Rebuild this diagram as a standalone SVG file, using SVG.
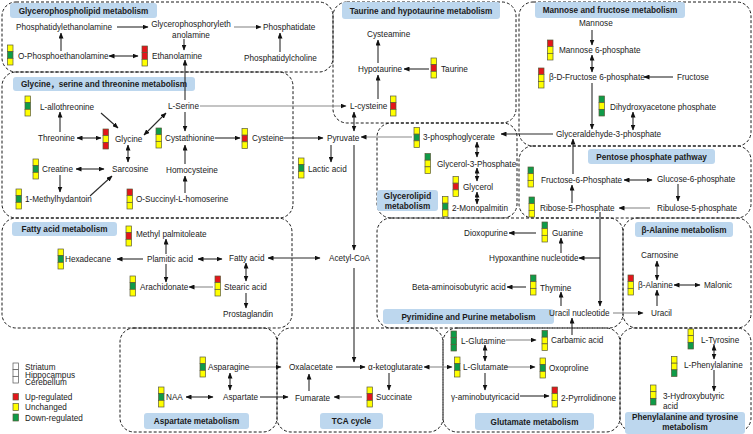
<svg xmlns="http://www.w3.org/2000/svg" width="753" height="434" viewBox="0 0 753 434">
<style>
text{font-family:"Liberation Sans",Arial,"Noto Sans CJK SC",sans-serif;font-size:8.2px;fill:#1a1a1a}
.h{font-weight:bold;text-anchor:middle}
.m{text-anchor:middle}
.box{fill:none;stroke:#1a1a1a;stroke-width:1;stroke-dasharray:3 2}
.tb{fill:#bdd7ee}
.c line{stroke:#2a2a2a;stroke-width:1.1;marker-end:url(#a)}
.c line.d{marker-start:url(#a)}
.c line.g{stroke:#8a8a8a}
.cy{fill:#ffff00;stroke:#5a5a3a;stroke-width:0.7}
.cr{fill:#e3161b;stroke:#5a5a3a;stroke-width:0.7}
.cg{fill:#0f9b48;stroke:#5a5a3a;stroke-width:0.7}
.cw{fill:#fff;stroke:#555;stroke-width:0.7}
</style>
<defs>
<marker id="a" viewBox="0 0 6 5" refX="5.5" refY="2.5" markerWidth="6" markerHeight="5" markerUnits="userSpaceOnUse" orient="auto-start-reverse"><path d="M0,0 L6,2.5 L0,5 z" fill="#111"/></marker>
<g id="ygy"><rect class="cy" width="5.5" height="6.67"/><rect class="cg" y="6.67" width="5.5" height="6.67"/><rect class="cy" y="13.33" width="5.5" height="6.67"/></g>
<g id="rry"><rect class="cr" width="5.5" height="6.67"/><rect class="cr" y="6.67" width="5.5" height="6.67"/><rect class="cy" y="13.33" width="5.5" height="6.67"/></g>
<g id="ryr"><rect class="cr" width="5.5" height="6.67"/><rect class="cy" y="6.67" width="5.5" height="6.67"/><rect class="cr" y="13.33" width="5.5" height="6.67"/></g>
<g id="gyy"><rect class="cg" width="5.5" height="6.67"/><rect class="cy" y="6.67" width="5.5" height="6.67"/><rect class="cy" y="13.33" width="5.5" height="6.67"/></g>
<g id="yry"><rect class="cy" width="5.5" height="6.67"/><rect class="cr" y="6.67" width="5.5" height="6.67"/><rect class="cy" y="13.33" width="5.5" height="6.67"/></g>
<g id="ryy"><rect class="cr" width="5.5" height="6.67"/><rect class="cy" y="6.67" width="5.5" height="6.67"/><rect class="cy" y="13.33" width="5.5" height="6.67"/></g>
<g id="gyg"><rect class="cg" width="5.5" height="6.67"/><rect class="cy" y="6.67" width="5.5" height="6.67"/><rect class="cg" y="13.33" width="5.5" height="6.67"/></g>
<g id="ggg"><rect class="cg" width="5.5" height="6.67"/><rect class="cg" y="6.67" width="5.5" height="6.67"/><rect class="cg" y="13.33" width="5.5" height="6.67"/></g>
<g id="yyg"><rect class="cy" width="5.5" height="6.67"/><rect class="cy" y="6.67" width="5.5" height="6.67"/><rect class="cg" y="13.33" width="5.5" height="6.67"/></g>
</defs>
<rect width="753" height="434" fill="#fff"/>

<g id="frames">
<rect class="box" x="2" y="2" width="331" height="70" rx="14"/>
<rect class="box" x="2" y="72" width="291" height="146" rx="14"/>
<rect class="box" x="2" y="218" width="290" height="110" rx="14"/>
<rect class="box" x="333" y="2" width="183" height="121" rx="14"/>
<rect class="box" x="519" y="2" width="232" height="144" rx="14"/>
<rect class="box" x="377" y="123" width="140" height="95" rx="14"/>
<rect class="box" x="519" y="146" width="232" height="72" rx="14"/>
<rect class="box" x="377" y="218" width="246" height="110" rx="14"/>
<rect class="box" x="623" y="218" width="128" height="110" rx="14"/>
<rect class="box" x="120" y="328" width="157" height="104" rx="14"/>
<rect class="box" x="277" y="328" width="166" height="104" rx="14"/>
<rect class="box" x="443" y="328" width="177" height="104" rx="14"/>
<rect class="box" x="620" y="328" width="131" height="104" rx="14"/>
</g>

<g id="titles">
<rect class="tb" x="10" y="3" width="147" height="15" rx="3"/><text class="h" x="83.5" y="13.5">Glycerophospholipid metabolism</text>
<rect class="tb" x="342" y="2" width="158" height="17" rx="3"/><text class="h" x="421" y="13.5">Taurine and hypotaurine metabolism</text>
<rect class="tb" x="535" y="2" width="150" height="16" rx="3"/><text class="h" x="610" y="13">Mannose and fructose metabolism</text>
<rect class="tb" x="13" y="77" width="182" height="14" rx="3"/><text class="h" x="104" y="87">Glycine，serine and threonine metabolism</text>
<rect class="tb" x="588" y="149" width="127" height="15" rx="3"/><text class="h" x="651.5" y="159.5">Pentose phosphate pathway</text>
<rect class="tb" x="377" y="190" width="61" height="21" rx="3"/><text class="h" x="407.5" y="199">Glycerolipid</text><text class="h" x="407.5" y="209">metabolism</text>
<rect class="tb" x="12" y="222" width="105" height="14" rx="3"/><text class="h" x="64.5" y="232">Fatty acid metabolism</text>
<rect class="tb" x="635" y="222" width="98" height="15" rx="3"/><text class="h" x="684" y="232.5">β-Alanine metabolism</text>
<rect class="tb" x="383" y="309" width="171" height="15" rx="3"/><text class="h" x="468.5" y="319.5">Pyrimidine and Purine metabolism</text>
<rect class="tb" x="144" y="413" width="105" height="16" rx="3"/><text class="h" x="196.5" y="424">Aspartate metabolism</text>
<rect class="tb" x="320" y="413" width="63" height="16" rx="3"/><text class="h" x="351.5" y="424">TCA cycle</text>
<rect class="tb" x="475" y="413" width="119" height="17" rx="3"/><text class="h" x="534.5" y="424.5">Glutamate metabolism</text>
<rect class="tb" x="625" y="412" width="120" height="22" rx="3"/><text class="h" x="685" y="420">Phenylalanine and tyrosine</text><text class="h" x="685" y="430">metabolism</text>
</g>

<g id="connectors" class="c">
<line x1="117" y1="27" x2="148" y2="27"/>
<line class="g" x1="234" y1="27" x2="261" y2="27"/>
<line x1="280" y1="52" x2="280" y2="33"/>
<line x1="61" y1="51" x2="61" y2="33"/>
<line class="d" x1="109" y1="56" x2="138" y2="56"/>
<line x1="184" y1="39" x2="184" y2="50"/>
<line x1="185" y1="100" x2="185" y2="60"/>
<line x1="185" y1="112" x2="185" y2="131"/>
<line x1="60" y1="132" x2="60" y2="112"/>
<line x1="101" y1="113" x2="118" y2="128"/>
<line class="d" x1="77" y1="138" x2="101" y2="138"/>
<line class="d" x1="144" y1="135" x2="166" y2="113"/>
<line x1="215" y1="138" x2="240" y2="138"/>
<line x1="284" y1="138" x2="323" y2="138"/>
<line class="g" x1="200" y1="106" x2="346" y2="106"/>
<line class="d" x1="354" y1="112" x2="354" y2="131"/>
<line class="g" x1="412" y1="137" x2="361" y2="137"/>
<line x1="553" y1="134" x2="501" y2="134"/>
<line class="d" x1="477" y1="142" x2="477" y2="157"/>
<line class="d" x1="477" y1="168" x2="477" y2="181"/>
<line class="d" x1="477" y1="192" x2="477" y2="204"/>
<line x1="331" y1="145" x2="331" y2="162"/>
<line x1="354" y1="145" x2="354" y2="250"/>
<line x1="354" y1="268" x2="354" y2="362"/>
<line class="d" x1="268" y1="258" x2="320" y2="258"/>
<line class="d" x1="128" y1="145" x2="128" y2="162"/>
<line class="d" x1="76" y1="169" x2="104" y2="169"/>
<line x1="60" y1="175" x2="60" y2="192"/>
<line x1="90" y1="196" x2="112" y2="176"/>
<line x1="185" y1="164" x2="185" y2="145"/>
<line x1="185" y1="193" x2="185" y2="176"/>
<line x1="378" y1="63" x2="378" y2="40"/>
<line x1="429" y1="69" x2="404" y2="69"/>
<line x1="378" y1="99" x2="378" y2="75"/>
<line x1="592" y1="30" x2="592" y2="45"/>
<line class="d" x1="592" y1="55" x2="592" y2="72"/>
<line x1="673" y1="77" x2="644" y2="77"/>
<line x1="592" y1="83" x2="592" y2="129"/>
<line class="d" x1="633" y1="112" x2="633" y2="130"/>
<line x1="573" y1="174" x2="573" y2="139"/>
<line class="d" x1="624" y1="180" x2="652" y2="180"/>
<line x1="678" y1="184" x2="678" y2="201"/>
<line class="g" x1="650" y1="208" x2="619" y2="208"/>
<line x1="572" y1="203" x2="572" y2="185"/>
<line x1="600" y1="212" x2="600" y2="306"/>
<line x1="600" y1="258" x2="579" y2="258"/>
<line x1="143" y1="259" x2="117" y2="259"/>
<line class="d" x1="198" y1="259" x2="222" y2="259"/>
<line x1="166" y1="254" x2="166" y2="239"/>
<line x1="166" y1="264" x2="166" y2="282"/>
<line class="g" x1="213" y1="287" x2="189" y2="287"/>
<line class="d" x1="246" y1="263" x2="246" y2="281"/>
<line x1="246" y1="293" x2="246" y2="308"/>
<line x1="536" y1="233" x2="509" y2="233"/>
<line x1="561" y1="253" x2="561" y2="238"/>
<line x1="526" y1="287" x2="507" y2="287"/>
<line x1="561" y1="306" x2="561" y2="292"/>
<line class="g" x1="613" y1="313" x2="643" y2="313"/>
<line x1="572" y1="335" x2="572" y2="318"/>
<line class="d" x1="657" y1="261" x2="657" y2="280"/>
<line class="d" x1="674" y1="285" x2="700" y2="285"/>
<line x1="657" y1="306" x2="657" y2="290"/>
<line class="g" x1="506" y1="340" x2="536" y2="340"/>
<line class="d" x1="485" y1="345" x2="485" y2="361"/>
<line class="d g" x1="424" y1="367" x2="452" y2="367"/>
<line class="g" x1="504" y1="367" x2="535" y2="367"/>
<line x1="485" y1="373" x2="485" y2="390"/>
<line x1="520" y1="396" x2="549" y2="396"/>
<line class="d" x1="714" y1="345" x2="714" y2="359"/>
<line x1="714" y1="370" x2="714" y2="391"/>
<line x1="336" y1="367" x2="365" y2="367"/>
<line x1="389" y1="373" x2="389" y2="390"/>
<line class="g" x1="362" y1="397" x2="334" y2="397"/>
<line x1="309" y1="391" x2="309" y2="374"/>
<line class="g" x1="249" y1="367" x2="281" y2="367"/>
<line class="d" x1="230" y1="373" x2="230" y2="390"/>
<line class="d" x1="186" y1="397" x2="213" y2="397"/>
<line x1="260" y1="397" x2="288" y2="397"/>
</g>

<g id="n-phosphatidylethanolamine"><text x="16" y="30">Phosphatidylethanolamine</text></g>
<g id="n-glycerophosphorylethanolamine"><text class="m" x="191" y="27">Glycerophosphoryleth</text><text class="m" x="191" y="37.5">anolamine</text></g>
<g id="n-o-phosphoethanolamine"><use href="#ygy" x="7.5" y="45"/><text x="18" y="59">O-Phosphoethanolamine</text></g>
<g id="n-ethanolamine"><use href="#rry" x="142" y="46"/><text x="152" y="59">Ethanolamine</text></g>
<g id="n-phosphatidate"><text x="263" y="30">Phosphatidate</text></g>
<g id="n-phosphatidylcholine"><text x="244" y="61">Phosphatidylcholine</text></g>

<g id="n-l-allothreonine"><use href="#ygy" x="25" y="96"/><text x="40" y="110">L-allothreonine</text></g>
<g id="n-l-serine"><text x="168" y="109">L-Serine</text></g>
<g id="n-threonine"><text x="38" y="141">Threonine</text></g>
<g id="n-glycine"><use href="#ryr" x="103" y="129"/><text x="115" y="142">Glycine</text></g>
<g id="n-cystathionine"><use href="#gyy" x="156" y="128"/><text x="165" y="141">Cystathionine</text></g>
<g id="n-cysteine"><use href="#yry" x="242" y="128.5"/><text x="252" y="141">Cysteine</text></g>
<g id="n-creatine"><use href="#ygy" x="33" y="159"/><text x="42" y="172">Creatine</text></g>
<g id="n-sarcosine"><text x="112" y="172">Sarcosine</text></g>
<g id="n-homocysteine"><text x="166" y="173">Homocysteine</text></g>
<g id="n-1-methylhydantoin"><use href="#ygy" x="16" y="189"/><text x="25" y="202">1-Methylhydantoin</text></g>
<g id="n-o-succinyl-l-homoserine"><use href="#ryy" x="127" y="189"/><text x="136" y="202">O-Succinyl-L-homoserine</text></g>

<g id="n-pyruvate"><text x="327" y="141">Pyruvate</text></g>
<g id="n-lactic-acid"><use href="#ygy" x="298.5" y="158"/><text x="308" y="172">Lactic acid</text></g>
<g id="n-acetyl-coa"><text x="329" y="261">Acetyl-CoA</text></g>

<g id="n-cysteamine"><text x="367" y="37">Cysteamine</text></g>
<g id="n-hypotaurine"><text x="358" y="72">Hypotaurine</text></g>
<g id="n-taurine"><use href="#yry" x="431" y="58"/><text x="441" y="72">Taurine</text></g>
<g id="n-l-cysteine"><use href="#yry" x="390.5" y="96"/><text x="350" y="109">L-cysteine</text></g>

<g id="n-mannose"><text x="579" y="26">Mannose</text></g>
<g id="n-mannose-6-phosphate"><use href="#ryy" x="547.5" y="40"/><text x="559" y="53">Mannose 6-phosphate</text></g>
<g id="n-b-d-fructose-6-phosphate"><use href="#ryy" x="538.5" y="68"/><text x="549" y="80">β-D-Fructose 6-phosphate</text></g>
<g id="n-fructose"><text x="677" y="80">Fructose</text></g>
<g id="n-dihydroxyacetone-phosphate"><use href="#gyg" x="599" y="96"/><text x="610" y="110">Dihydroxyacetone phosphate</text></g>
<g id="n-glyceraldehyde-3-phosphate"><text x="556" y="137">Glyceraldehyde-3-phosphate</text></g>

<g id="n-3-phosphoglycerate"><use href="#ygy" x="414" y="127.5"/><text x="423" y="140">3-phosphoglycerate</text></g>
<g id="n-glycerol-3-phosphate"><use href="#gyy" x="425" y="153.5"/><text x="437" y="167">Glycerol-3-Phosphate</text></g>
<g id="n-glycerol"><use href="#yry" x="453" y="176.5"/><text x="463" y="190">Glycerol</text></g>
<g id="n-2-monopalmitin"><use href="#ygy" x="442.5" y="196.5"/><text x="452" y="211">2-Monopalmitin</text></g>

<g id="n-fructose-6-phosphate"><use href="#gyy" x="528" y="167"/><text x="541" y="183">Fructose-6-Phosphate</text></g>
<g id="n-glucose-6-phosphate"><text x="657" y="182">Glucose-6-phosphate</text></g>
<g id="n-ribulose-5-phosphate"><text x="657" y="211">Ribulose-5-phosphate</text></g>
<g id="n-ribose-5-phosphate"><use href="#gyy" x="529" y="197"/><text x="540" y="211">Ribose-5-Phosphate</text></g>

<g id="n-methyl-palmitoleate"><use href="#yry" x="126" y="226"/><text x="136" y="237">Methyl palmitoleate</text></g>
<g id="n-hexadecane"><use href="#ygy" x="58" y="249"/><text x="65" y="262">Hexadecane</text></g>
<g id="n-plamitic-acid"><text x="147" y="262">Plamitic acid</text></g>
<g id="n-fatty-acid"><text x="229" y="261">Fatty acid</text></g>
<g id="n-arachidonate"><use href="#ygy" x="130" y="276"/><text x="140" y="290">Arachidonate</text></g>
<g id="n-stearic-acid"><use href="#ryy" x="215" y="276"/><text x="224" y="290">Stearic acid</text></g>
<g id="n-prostaglandin"><text x="223" y="317">Prostaglandin</text></g>

<g id="n-dioxopurine"><text x="464" y="236">Dioxopurine</text></g>
<g id="n-guanine"><use href="#gyy" x="542" y="222"/><text x="552" y="236">Guanine</text></g>
<g id="n-hypoxanthine-nucleotide"><text x="489" y="261">Hypoxanthine nucleotide</text></g>
<g id="n-beta-aminoisobutyric-acid"><text x="412" y="290">Beta-aminoisobutyric acid</text></g>
<g id="n-thymine"><use href="#gyy" x="530.5" y="275"/><text x="540" y="291">Thymine</text></g>
<g id="n-uracil-nucleotide"><text x="549" y="316">Uracil nucleotide</text></g>
<g id="n-uracil"><text x="651" y="316">Uracil</text></g>

<g id="n-carnosine"><text x="641" y="258">Carnosine</text></g>
<g id="n-b-alanine"><use href="#ryy" x="628" y="275"/><text x="638" y="288">β-Alanine</text></g>
<g id="n-malonic"><text x="704" y="288">Malonic</text></g>

<g id="n-asparagine"><use href="#ygy" x="200" y="357"/><text x="208" y="370">Asparagine</text></g>
<g id="n-naa"><use href="#ygy" x="158.5" y="387"/><text x="166" y="400">NAA</text></g>
<g id="n-aspartate"><text x="223" y="400">Aspartate</text></g>

<g id="n-oxalacetate"><text x="289" y="370">Oxalacetate</text></g>
<g id="n-a-ketoglutarate"><text x="368" y="370">α-ketoglutarate</text></g>
<g id="n-fumarate"><text x="295" y="401">Fumarate</text></g>
<g id="n-succinate"><use href="#yry" x="367" y="387"/><text x="376" y="400">Succinate</text></g>

<g id="n-l-glutamine"><use href="#ggg" x="451" y="331"/><text x="461" y="344">L-Glutamine</text></g>
<g id="n-carbamic-acid"><use href="#gyy" x="542" y="330.5"/><text x="551" y="343">Carbamic acid</text></g>
<g id="n-l-glutamate"><use href="#ygy" x="454.5" y="357"/><text x="463" y="370">L-Glutamate</text></g>
<g id="n-oxoproline"><use href="#ygy" x="540" y="358"/><text x="549" y="371">Oxoproline</text></g>
<g id="n-gamma-aminobutyricacid"><text x="451" y="400">γ-aminobutyricacid</text></g>
<g id="n-2-pyrrolidinone"><use href="#ryy" x="552" y="387"/><text x="561" y="401">2-Pyrrolidinone</text></g>

<g id="n-l-tyrosine"><use href="#yyg" x="688" y="329"/><text x="701" y="343">L-Tyrosine</text></g>
<g id="n-l-phenylalanine"><use href="#yyg" x="671.5" y="356.5"/><text x="684" y="368">L-Phenylalanine</text></g>
<g id="n-3-hydroxybutyric-acid"><use href="#yyg" x="650.5" y="385"/><text x="663" y="399">3-Hydroxybutyric</text><text x="663" y="409">acid</text></g>

<g id="legend">
<rect class="cw" x="13" y="363" width="5.5" height="6.67"/><rect class="cw" x="13" y="369.67" width="5.5" height="6.67"/><rect class="cw" x="13" y="376.33" width="5.5" height="6.67"/>
<text x="25" y="370">Striatum</text><text x="25" y="377.5">Hippocampus</text><text x="25" y="385">Cerebellum</text>
<rect class="cr" x="13" y="393.5" width="5.5" height="6.5"/><text x="25" y="400">Up-regulated</text>
<rect class="cy" x="13" y="403.5" width="5.5" height="7"/><text x="25" y="410">Unchanged</text>
<rect class="cg" x="13" y="414" width="5.5" height="7"/><text x="25" y="421">Down-regulated</text>
</g>
</svg>
